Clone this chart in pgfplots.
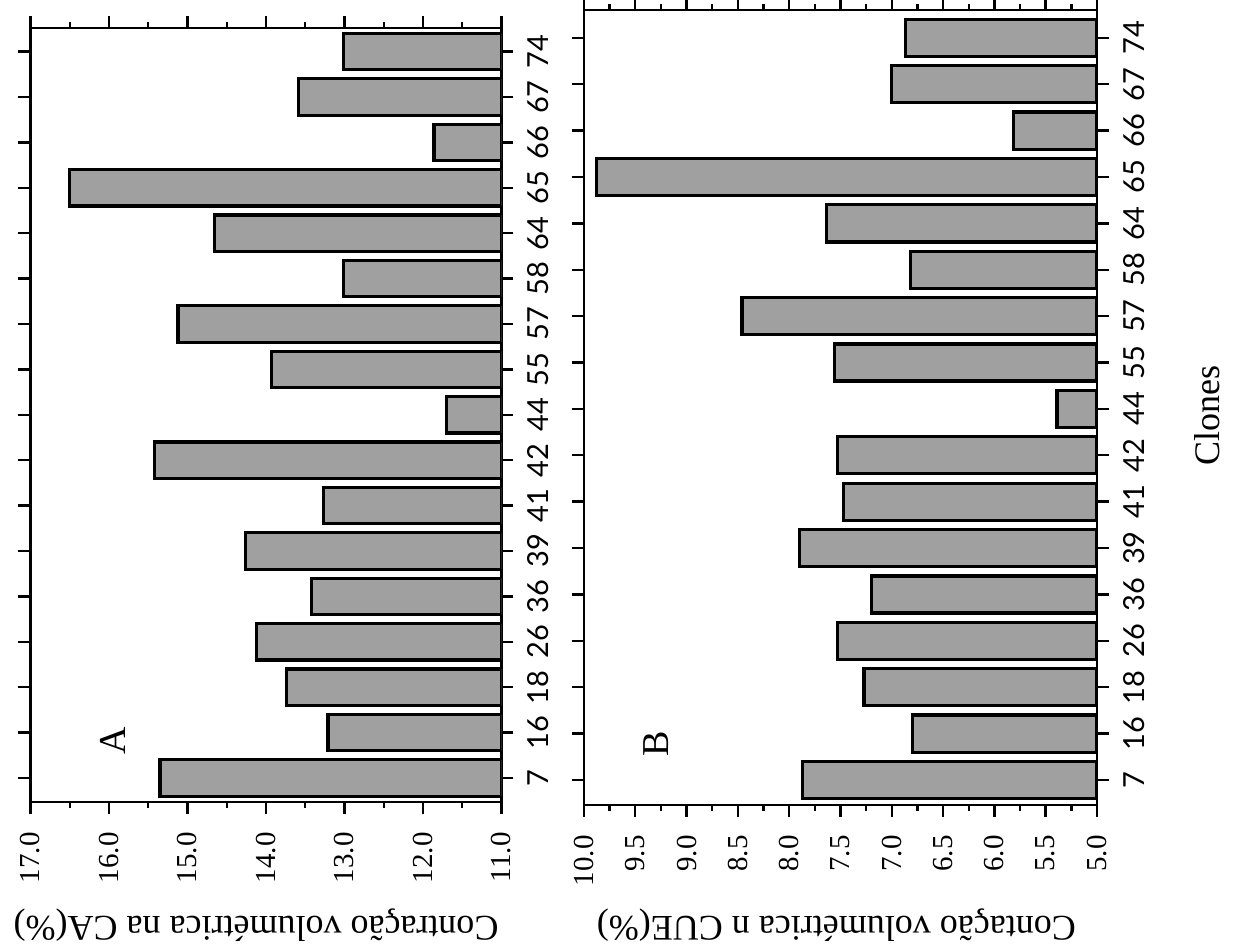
\documentclass[border=0pt]{standalone}
\usepackage{pgfplots}
\pgfplotsset{compat=1.18}
\usepackage{fontspec}
\setmainfont{Liberation Serif}
\newfontfamily\catfont{Lato}
\newcommand\cf[1]{{\catfont #1}}
\definecolor{barfill}{RGB}{160,160,160}
\begin{document}
\begin{tikzpicture}
\useasboundingbox (0pt,0pt) rectangle (616.5pt,474.5pt);
\pgfplotsset{
  panel/.style={
    scale only axis, xbar, bar width=0.8, clip=true,
    x dir=reverse,
    axis line style={line width=1.4pt},
    every tick/.style={black, line width=1.2pt},
    tick align=outside,
    major tick length=6pt, minor tick length=2.75pt,
    ytick={0,...,16},
    yticklabels={\cf{7},\cf{16},\cf{18},\cf{26},\cf{36},\cf{39},\cf{41},\cf{42},\cf{44},\cf{55},\cf{57},\cf{58},\cf{64},\cf{65},\cf{66},\cf{67},\cf{74}},
    yticklabel pos=right,
    yticklabel shift=5pt,
    xticklabel shift=7pt,
    xticklabel={\rmfamily\pgfmathprintnumber[fixed,fixed zerofill,precision=1,assume math mode=true]{\tick}},
    yticklabel style={rotate=90, anchor=north, font=\fontsize{14.5}{14.5}\selectfont, inner sep=2pt},
    xticklabel style={rotate=90, anchor=east, font=\rmfamily\fontsize{14.5}{14.5}\selectfont, inner sep=2pt},
    xlabel style={rotate=180, anchor=south, font=\rmfamily\fontsize{18}{18}\selectfont, inner sep=2pt},
    ylabel style={font=\rmfamily\fontsize{18}{18}\selectfont, inner sep=1pt},
  },
  barstyle/.style={draw=black, line width=1.6pt, fill=barfill},
}
\begin{axis}[panel,
  at={(15.25pt,73.5pt)}, anchor=south west, width=235.5pt, height=387pt,
  xmin=11, xmax=17, ymin=-0.529, ymax=16.52,
  xtick={11,...,17}, minor xtick={11.5,12.5,...,16.5},
  xlabel={Contração volumétrica na CA(\%)},
  xlabel style={at={(axis description cs:0.479,-0.132)}},
]
\addplot[barstyle] coordinates {
(15.35,0) (13.21,1) (13.74,2) (14.12,3) (13.42,4) (14.26,5) (13.27,6) (15.42,7)
(11.70,8) (13.93,9) (15.12,10) (13.01,11) (14.66,12) (16.50,13) (11.86,14) (13.59,15) (13.01,16)};
\node[rotate=90, font=\rmfamily\fontsize{19}{19}\selectfont] at (axis cs:15.95,0.82) {A};
\end{axis}
\begin{axis}[panel,
  at={(292pt,72pt)}, anchor=south west, width=256.5pt, height=397.5pt,
  xmin=5, xmax=10, ymin=-0.539, ymax=16.60,
  xtick={5,5.5,...,10}, minor xtick={5.25,5.75,...,9.75},
  xlabel={Contação volumétrica n CUE(\%)},
  xlabel style={at={(axis description cs:0.492,-0.1255)}},
  ylabel={Clones},
  ylabel style={at={(axis description cs:1.185,0.49)}, anchor=north},
]
\addplot[barstyle] coordinates {
(7.87,0) (6.80,1) (7.27,2) (7.53,3) (7.20,4) (7.90,5) (7.47,6) (7.53,7)
(5.39,8) (7.56,9) (8.46,10) (6.82,11) (7.64,12) (9.88,13) (5.81,14) (7.00,15) (6.87,16)};
\node[rotate=90, font=\rmfamily\fontsize{19}{19}\selectfont] at (axis cs:9.30,0.78) {B};
\end{axis}
\end{tikzpicture}
\end{document}
